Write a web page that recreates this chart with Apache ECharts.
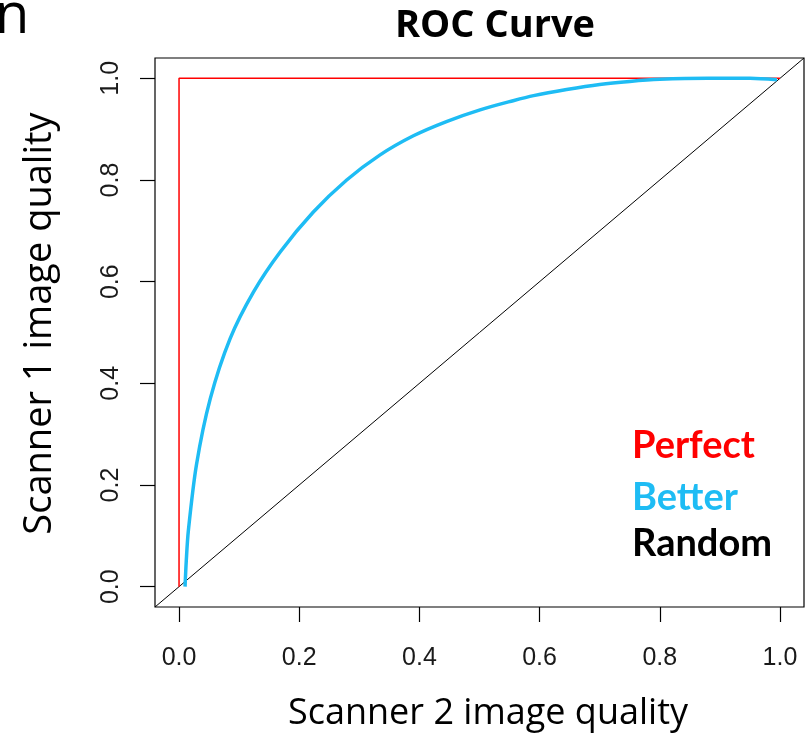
<!DOCTYPE html>
<html><head><meta charset="utf-8">
<script src="https://cdn.jsdelivr.net/npm/echarts@6/dist/echarts.min.js"></script>
<style>html,body{margin:0;padding:0;background:#fff}#c{width:808px;height:737px}</style>
</head><body><div id="c"></div>
<script>
const tickValues = [0, 0.2, 0.4, 0.6, 0.8, 1.0];
const tickLabels = ['0.0', '0.2', '0.4', '0.6', '0.8', '1.0'];
const perfectX = [0, 0, 1];
const perfectY = [0, 1, 1];
const betterX = [0.01, 0.012, 0.0155, 0.029, 0.052, 0.085, 0.124, 0.168, 0.2235, 0.279, 0.334, 0.390, 0.445, 0.501, 0.556, 0.59, 0.645, 0.70, 0.75, 0.80, 0.88, 0.95, 0.995];
const betterY = [0.0, 0.05, 0.11, 0.24, 0.37, 0.488, 0.58, 0.658, 0.737, 0.800, 0.849, 0.887, 0.915, 0.938, 0.956, 0.966, 0.978, 0.988, 0.994, 0.998, 1.0, 1.0, 0.997];
const randomX = [-0.04, 1.04];
const randomY = [-0.04, 1.04];
const legendNames = ['Perfect', 'Better', 'Random'];
const legendColors = ['#ff0000', '#1ebcf4', '#000000'];

const zip = (a, b) => a.map((v, i) => [v, b[i]]);
const chart = echarts.init(document.getElementById('c'), null, {renderer: 'canvas'});
const tickFmt = v => { const i = tickValues.findIndex(t => Math.abs(t - v) < 1e-9); return i >= 0 ? tickLabels[i] : ''; };
chart.setOption({
  animation: false,
  backgroundColor: '#fff',
  title: {
    text: 'ROC Curve', left: 490, top: 2, textAlign: 'center',
    textStyle: {fontFamily: 'Open Sans', fontWeight: 'bold', fontSize: 38, color: '#000'}
  },
  grid: {left: 155, right: 4, top: 58, bottom: 128, show: true, borderColor: '#000', borderWidth: 1.2, backgroundColor: 'transparent'},
  xAxis: {
    type: 'value', min: -0.04, max: 1.04,
    name: 'Scanner 2 image quality', nameLocation: 'middle', nameGap: 89, nameMoveOverlap: false,
    nameTextStyle: {fontFamily: 'Open Sans', fontSize: 36, color: '#000', padding: [0, 0, 0, 17]},
    axisLine: {show: false, onZero: false},
    splitLine: {show: false},
    axisTick: {show: true, inside: false, length: 15, customValues: tickValues, lineStyle: {color: '#000', width: 1.2}},
    axisLabel: {customValues: tickValues, formatter: tickFmt, margin: 39, fontFamily: 'Liberation Sans', fontSize: 25, color: '#1a1a1a'}
  },
  yAxis: {
    type: 'value', min: -0.04, max: 1.04,
    name: 'Scanner 1 image quality', nameLocation: 'middle', nameGap: 96, nameRotate: 90, nameMoveOverlap: false,
    nameTextStyle: {fontFamily: 'Open Sans', fontSize: 38, color: '#000', padding: [0, 0, 0, 18]},
    axisLine: {show: false, onZero: false},
    splitLine: {show: false},
    axisTick: {show: true, inside: false, length: 15, customValues: tickValues, lineStyle: {color: '#000', width: 1.2}},
    axisLabel: {customValues: tickValues, formatter: tickFmt, rotate: 90, margin: 31, fontFamily: 'Liberation Sans', fontSize: 25, color: '#1a1a1a'}
  },
  series: [
    {name: 'Random', type: 'line', data: zip(randomX, randomY), symbol: 'none', lineStyle: {color: '#000', width: 1}, z: 2},
    {name: 'Perfect', type: 'line', data: zip(perfectX, perfectY), symbol: 'none', lineStyle: {color: '#ff0000', width: 1.5}, z: 3},
    {name: 'Better', type: 'line', data: zip(betterX, betterY), symbol: 'none', smooth: 0.3, lineStyle: {color: '#1ebcf4', width: 3.5}, z: 4}
  ],
  graphic: [
    {type: 'text', left: 632, top: 427, style: {text: legendNames[0], fill: legendColors[0], font: 'bold 38px Lato'}},
    {type: 'text', left: 632, top: 479, style: {text: legendNames[1], fill: legendColors[1], font: 'bold 38px Lato'}},
    {type: 'text', left: 632, top: 525, style: {text: legendNames[2], fill: legendColors[2], font: 'bold 38px Lato'}},
    {type: 'text', left: -5, top: -11, style: {text: 'n', fill: '#000', font: '56px "Open Sans"'}}
  ]
});
</script></body></html>
